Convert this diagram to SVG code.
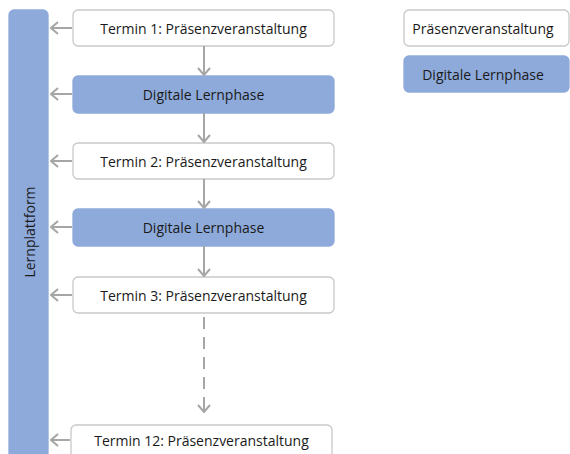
<svg xmlns="http://www.w3.org/2000/svg" width="570" height="454" viewBox="0 0 570 454">
<style>
.w{fill:#ffffff;stroke:#c9c9c9;stroke-width:1.3}
.b{fill:#8eaadb;stroke:#8eaadb;stroke-width:1.3}
.t{font-family:"Open Sans",sans-serif;font-size:14px;fill:#1a1a1a;text-anchor:middle;dominant-baseline:central}
.c{stroke:#a6a6a6;stroke-width:2;fill:none}
</style>
<defs>
<marker id="m" viewBox="0 0 14 14" refX="13" refY="7" markerWidth="14" markerHeight="14" orient="auto" markerUnits="userSpaceOnUse">
<path d="M6,1 L13,7 L6,13" fill="none" stroke="#a6a6a6" stroke-width="2"/>
</marker>
</defs>
<g id="lernplattform">
<rect x="9" y="10" width="39" height="452" rx="5" class="b"/>
<text class="t" transform="translate(29,232) rotate(-90)">Lernplattform</text>
</g>
<g id="termin1"><rect x="73" y="10" width="261" height="36" rx="5" class="w"/><text class="t" x="203.5" y="28">Termin 1: Präsenzveranstaltung</text></g>
<g id="digital1"><rect x="73" y="76" width="261" height="37" rx="5" class="b"/><text class="t" x="203.5" y="94.5">Digitale Lernphase</text></g>
<g id="termin2"><rect x="73" y="143" width="261" height="36" rx="5" class="w"/><text class="t" x="203.5" y="161">Termin 2: Präsenzveranstaltung</text></g>
<g id="digital2"><rect x="73" y="209" width="261" height="37" rx="5" class="b"/><text class="t" x="203.5" y="227.5">Digitale Lernphase</text></g>
<g id="termin3"><rect x="73" y="277" width="261" height="36" rx="5" class="w"/><text class="t" x="203.5" y="295">Termin 3: Präsenzveranstaltung</text></g>
<g id="termin12"><rect x="71" y="425" width="261" height="40" rx="5" class="w"/><text class="t" x="201.5" y="440">Termin 12: Präsenzveranstaltung</text></g>
<g id="legend-praesenz"><rect x="404" y="10" width="165" height="36" rx="5" class="w"/><text class="t" x="483" y="28">Präsenzveranstaltung</text></g>
<g id="legend-digital"><rect x="404" y="56" width="165" height="36" rx="5" class="b"/><text class="t" x="483" y="74">Digitale Lernphase</text></g>
<g id="connectors">
<line class="c" x1="204" y1="46" x2="204" y2="75" marker-end="url(#m)"/>
<line class="c" x1="204" y1="113" x2="204" y2="142" marker-end="url(#m)"/>
<line class="c" x1="204" y1="179" x2="204" y2="208" marker-end="url(#m)"/>
<line class="c" x1="204" y1="246" x2="204" y2="276" marker-end="url(#m)"/>
<line class="c" x1="204" y1="317" x2="204" y2="396" stroke-dasharray="12,8"/>
<line class="c" x1="204" y1="397" x2="204" y2="412" marker-end="url(#m)"/>
<line class="c" x1="72" y1="28" x2="51" y2="28" marker-end="url(#m)"/>
<line class="c" x1="72" y1="94" x2="51" y2="94" marker-end="url(#m)"/>
<line class="c" x1="72" y1="161" x2="51" y2="161" marker-end="url(#m)"/>
<line class="c" x1="72" y1="227" x2="51" y2="227" marker-end="url(#m)"/>
<line class="c" x1="72" y1="295" x2="51" y2="295" marker-end="url(#m)"/>
<line class="c" x1="70" y1="440" x2="51" y2="440" marker-end="url(#m)"/>
</g>
</svg>
